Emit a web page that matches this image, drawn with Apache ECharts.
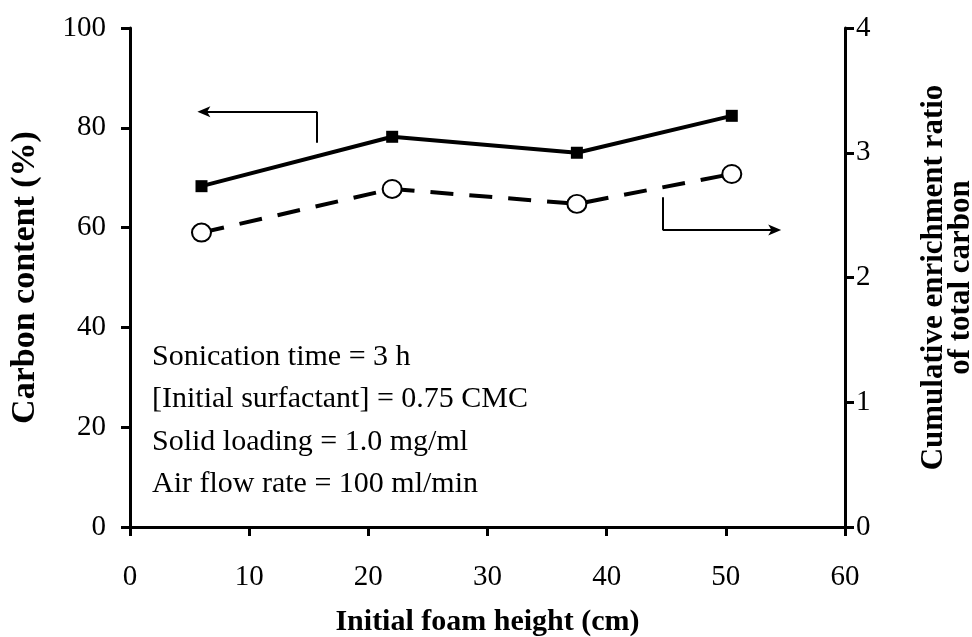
<!DOCTYPE html>
<html>
<head>
<meta charset="utf-8">
<script src="https://cdn.jsdelivr.net/npm/echarts@6/dist/echarts.min.js"></script>
<style>
  html, body { margin: 0; padding: 0; background: #fff; }
  #chart { width: 972px; height: 637px; }
</style>
</head>
<body>
<div id="chart"></div>
<script>
// foam height (cm)
const foamHeight = [6, 22, 37.5, 50.5];
// carbon content (%), left axis
const carbonContent = [68.3, 78.2, 75.0, 82.4];
// cumulative enrichment ratio, right axis
const enrichmentRatio = [2.36, 2.71, 2.59, 2.83];

const notes = [
  'Sonication time = 3 h',
  '[Initial surfactant] = 0.75 CMC',
  'Solid loading = 1.0 mg/ml',
  'Air flow rate = 100 ml/min',
];

const FONT = '"Liberation Serif", "DejaVu Serif", serif';
const BLACK = '#000';

const chart = echarts.init(document.getElementById('chart'));

const axisLine = { show: true, lineStyle: { color: BLACK, width: 3 } };
const axisTick = { show: true, inside: false, length: 9, lineStyle: { color: BLACK, width: 3 } };
const tickLabel = { color: BLACK, fontFamily: FONT, fontSize: 29 };
const nameStyle = { color: BLACK, fontFamily: FONT, fontWeight: 'bold' };

// thin arrow head, pointing up (markLine rotates it along the line)
const arrowHead = 'path://M5,0 L10,12 L5,9 L0,12 Z';

chart.setOption({
  animation: false,
  backgroundColor: '#fff',
  grid: { left: 130, right: 127, top: 28, bottom: 110, outerBoundsMode: 'none', containLabel: false },
  xAxis: {
    type: 'value',
    min: 0, max: 60, interval: 10,
    name: 'Initial foam height (cm)',
    nameLocation: 'middle',
    nameGap: 80,
    nameTextStyle: { ...nameStyle, fontSize: 30 },
    axisLine, axisTick,
    axisLabel: { ...tickLabel, margin: 36 },
    splitLine: { show: false },
  },
  yAxis: [
    {
      type: 'value',
      min: 0, max: 100, interval: 20,
      name: 'Carbon content (%)',
      nameLocation: 'middle',
      nameRotate: 90,
      nameGap: 88,
      nameTextStyle: { ...nameStyle, fontSize: 34 },
      axisLine, axisTick,
      axisLabel: { ...tickLabel, margin: 24 },
      splitLine: { show: false },
    },
    {
      type: 'value',
      position: 'right',
      min: 0, max: 4, interval: 1,
      name: 'Cumulative enrichment ratio\nof total carbon',
      nameLocation: 'middle',
      nameRotate: 90,
      nameGap: 75,
      nameTextStyle: { ...nameStyle, fontSize: 31, lineHeight: 27 },
      axisLine, axisTick,
      axisLabel: { ...tickLabel, margin: 11 },
      splitLine: { show: false },
    },
  ],
  series: [
    {
      name: 'Carbon content',
      type: 'line',
      yAxisIndex: 0,
      data: foamHeight.map((x, i) => [x, carbonContent[i]]),
      symbol: 'rect',
      symbolSize: 12,
      itemStyle: { color: BLACK },
      lineStyle: { color: BLACK, width: 4 },
      z: 3,
      markLine: {
        silent: true,
        symbol: 'none',
        lineStyle: { color: BLACK, width: 2, type: 'solid' },
        label: { show: false },
        data: [
          [{ coord: [15.7, 77] }, { coord: [15.7, 83.2] }],
          [{ coord: [15.7, 83.2], symbol: 'none' }, { coord: [6.2, 83.2], symbol: arrowHead, symbolSize: [11, 13] }],
          [{ coord: [44.7, 66.1] }, { coord: [44.7, 59.5] }],
          [{ coord: [44.7, 59.5], symbol: 'none' }, { coord: [54.1, 59.5], symbol: arrowHead, symbolSize: [11, 13] }],
        ],
      },
    },
    {
      name: 'Enrichment ratio',
      type: 'line',
      yAxisIndex: 1,
      data: foamHeight.map((x, i) => [x, enrichmentRatio[i]]),
      symbol: 'circle',
      symbolSize: [19, 18],
      itemStyle: { color: '#fff', borderColor: BLACK, borderWidth: 2 },
      lineStyle: { color: BLACK, width: 4, type: [23, 16] },
      z: 3,
    },
  ],
  graphic: notes.map((t, i) => ({
    type: 'text',
    x: 152,
    y: 357 + i * 42.5,
    style: { text: t, fill: BLACK, font: '30px ' + FONT, verticalAlign: 'middle' },
  })),
});
</script>
</body>
</html>
